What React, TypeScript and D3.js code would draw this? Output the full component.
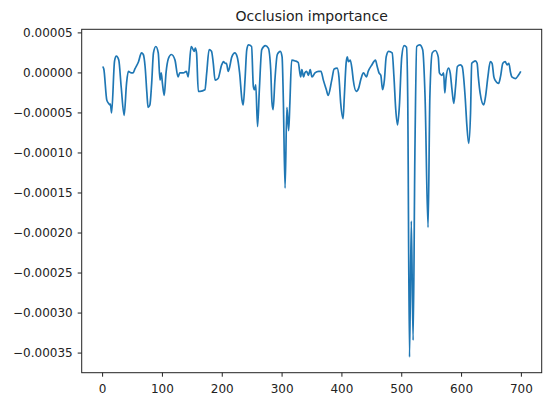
import * as d3 from "d3";

// position index along the sequence
const positions = [
  0, 2, 7, 10, 12, 13, 15, 20, 23, 27, 31, 36, 40, 43, 48, 51, 54, 60, 65, 68,
  71, 74, 76, 79, 82, 85, 89, 93, 96, 98, 100, 103, 106, 110, 115, 121, 126, 129,
  135, 140, 143, 148, 150, 153, 155, 157, 160, 163, 171, 174, 178, 182, 185, 188,
  193, 199, 202, 205, 207, 210, 216, 221, 225, 229, 233, 235, 238, 241, 244, 249,
  252, 254, 256, 259, 262, 266, 272, 277, 281, 283, 285, 288, 292, 297, 300, 302,
  305, 308, 311, 313, 316, 322, 327, 331, 333, 336, 338, 341, 344, 347, 350, 355,
  361, 365, 369, 374, 377, 383, 387, 392, 395, 398, 402, 404, 407, 409, 411, 414,
  417, 419, 424, 428, 432, 436, 441, 444, 450, 456, 459, 462, 465, 468, 471, 474,
  478, 484, 487, 490, 493, 496, 500, 504, 508, 510, 513, 516, 519, 522, 525, 530,
  535, 539, 544, 547, 551, 556, 561, 563, 567, 570, 572, 574, 578, 581, 584, 587,
  590, 593, 598, 601, 606, 609, 612, 615, 617, 620, 623, 626, 628, 631, 637, 640,
  644, 648, 651, 654, 656, 662, 665, 669, 673, 676, 679, 682, 684, 690, 695, 699,
];

// occlusion importance
const importance = [
  0.000008, 0.000005, -0.000034, -0.000038, -0.00004, -0.000039, -0.00005, 0.000015,
  0.000021, 0.000016, -0.000017, -0.000053, -0.000013, 0.000002, 0, 0, 0.000005,
  0.000014, 0.000025, 0.000023, 0.000008, -0.000025, -0.000043, -0.00004, -0.000013,
  0.000025, 0.000033, 0.000025, -0.000009, 0, -0.000013, -0.000028, 0, 0.000018,
  0.000023, 0.000016, -0.000005, 0, 0, 0.000002, -0.000005, 0.000033, 0.000031,
  0.000027, 0.000031, 0.000025, -0.000023, -0.000023, -0.000021, 0, 0.000029,
  0.000027, 0.000012, -0.000009, -0.000007, 0.00001, 0.000014, 0.000012, 0.000012,
  0.000002, 0.00002, 0.000025, 0.00002, 0, -0.000034, -0.00004, -0.000009, 0.000029,
  0.000035, 0.000033, -0.000017, -0.000021, -0.000015, -0.000067, -0.000021,
  0.000029, 0.000034, 0.000031, 0.000004, -0.000036, -0.000046, -0.000009, 0.000023,
  0.000027, 0.00002, -0.00003, -0.000144, -0.000043, -0.000072, -0.000038, 0.000016,
  0.000015, 0.000013, -0.000005, 0.000004, -0.000005, 0, 0.000002, -0.000003,
  0.000004, -0.000005, 0, 0.000002, 0.000002, -0.000009, -0.000021, -0.000028,
  -0.000009, 0.000005, 0.000006, -0.000005, -0.000038, -0.000057, -0.00003, 0.000012,
  0.00002, 0.000014, 0.000016, 0.000004, -0.000009, -0.000023, -0.000019, -0.000007,
  0, -0.000005, 0.000002, 0.00001, 0.000016, 0.000008, 0, -0.000003, -0.000021,
  -0.000009, 0.00002, 0.000027, 0.000025, -0.000005, -0.000046, -0.000065, -0.000042,
  0.00002, 0.000034, 0.000032, -0.00003, -0.000355, -0.000185, -0.000334, -0.0001,
  0.000033, 0.000035, 0.000029, -0.00003, -0.000193, -0.00003, 0.000025, 0.000028,
  0.00002, 0, -0.000003, 0, -0.000025, -0.000007, 0.000006, 0, -0.000021, -0.000038,
  -0.000017, 0.000008, 0.00001, 0.000008, -0.00003, -0.000067, -0.000088, -0.00005,
  0.000012, 0.000014, 0.000015, 0.000012, -0.000005, -0.000025, -0.00004, -0.00003,
  -0.000005, 0.000014, 0.000012, -0.000005, -0.000009, -0.000013, -0.000005,
  0.000012, 0.000014, 0.00001, 0.000012, 0, -0.000005, -0.000007, -0.000003, 0.000002,
];

const xTicks = [0, 100, 200, 300, 400, 500, 600, 700];
const yTicks = [0.00005, 0, -0.00005, -0.0001, -0.00015, -0.0002, -0.00025, -0.0003, -0.00035];
const title = "Occlusion importance";

const WIDTH = 550;
const HEIGHT = 402;
const MARGIN = { top: 29.3, right: 8.3, bottom: 29.3, left: 81.7 };
const FONT = "DejaVu Sans, sans-serif";
const INK = "#222";

export default function App() {
  const points = positions.map((p, i) => ({ pos: p, value: importance[i] }));

  const [xMin, xMax] = d3.extent(positions) as [number, number];
  const [yMin, yMax] = d3.extent(importance) as [number, number];
  const xPad = (xMax - xMin) * 0.05;
  const yPad = (yMax - yMin) * 0.05;

  const x = d3
    .scaleLinear()
    .domain([xMin - xPad, xMax + xPad])
    .range([MARGIN.left, WIDTH - MARGIN.right]);
  const y = d3
    .scaleLinear()
    .domain([yMin - yPad, yMax + yPad])
    .range([HEIGHT - MARGIN.bottom, MARGIN.top]);

  const line = d3
    .line<{ pos: number; value: number }>()
    .x((d) => x(d.pos))
    .y((d) => y(d.value))
    .curve(d3.curveMonotoneX);

  const fmt = (v: number) => (v < 0 ? "\u2212" : "") + Math.abs(v).toFixed(5);
  const bottom = HEIGHT - MARGIN.bottom;
  const left = MARGIN.left;

  return (
    <svg
      width={WIDTH}
      height={HEIGHT}
      style={{ position: "absolute", left: 0, top: 0, background: "#fff" }}
      fontFamily={FONT}
    >
      <text
        x={(MARGIN.left + WIDTH - MARGIN.right) / 2}
        y={20.5}
        textAnchor="middle"
        fontSize={14}
        fill={INK}
      >
        {title}
      </text>

      <path d={line(points) ?? ""} fill="none" stroke="#1f77b4" strokeWidth={1.7} strokeLinejoin="round" />

      {xTicks.map((t) => (
        <g key={`x${t}`} transform={`translate(${x(t)},${bottom})`}>
          <line y2={4} stroke={INK} strokeWidth={1} />
          <text y={20} textAnchor="middle" fontSize={12} fill={INK}>
            {t}
          </text>
        </g>
      ))}

      {yTicks.map((t) => (
        <g key={`y${t}`} transform={`translate(${left},${y(t)})`}>
          <line x2={-4} stroke={INK} strokeWidth={1} />
          <text x={-9} dy="0.35em" textAnchor="end" fontSize={12} fill={INK}>
            {fmt(t)}
          </text>
        </g>
      ))}

      <rect
        x={MARGIN.left}
        y={MARGIN.top}
        width={WIDTH - MARGIN.left - MARGIN.right}
        height={HEIGHT - MARGIN.top - MARGIN.bottom}
        fill="none"
        stroke={INK}
        strokeWidth={1}
      />
    </svg>
  );
}
